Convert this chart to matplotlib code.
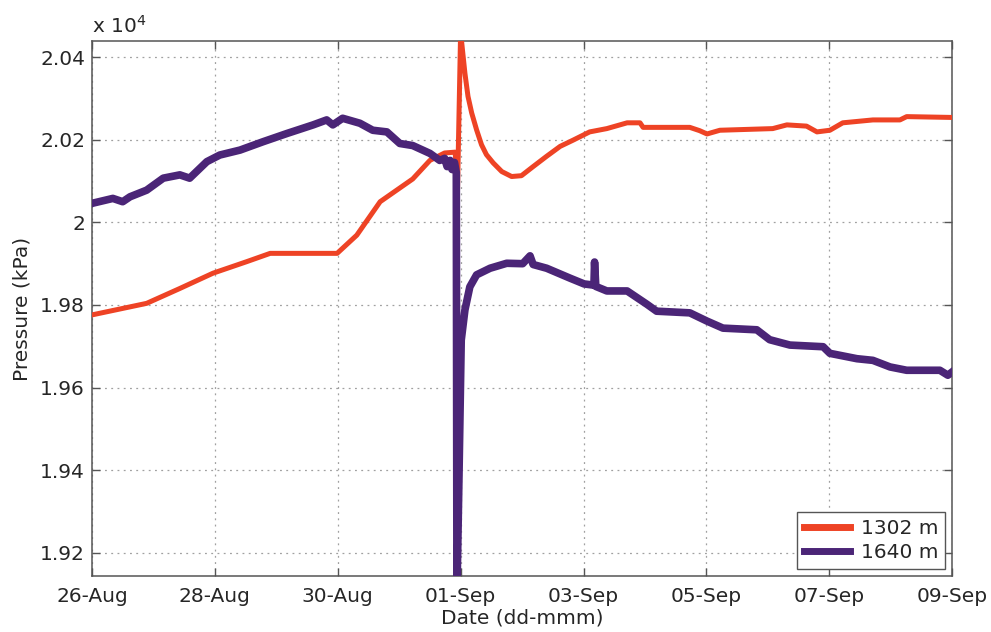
#!/usr/bin/env python3
# Pressure at two gauge depths around the 01-Sep event (MATLAB-style look)

from datetime import datetime, timedelta
import matplotlib
matplotlib.use("Agg")
import matplotlib.pyplot as plt
import matplotlib.dates as mdates
from matplotlib.ticker import FuncFormatter, MultipleLocator

START = datetime(2012, 8, 26)

# days since 26-Aug 00:00, pressure in units of 1e4 kPa
DAYS_1302 = [0.00, 0.89, 1.43, 1.97, 2.52, 2.90, 3.99, 4.31, 4.69, 5.22, 5.50, 5.74,
             5.91, 5.93, 5.95, 6.00, 6.07, 6.12, 6.18, 6.26, 6.34, 6.42, 6.53, 6.67,
             6.83, 6.99, 7.18, 7.40, 7.62, 7.83, 8.10, 8.38, 8.71, 8.92, 8.97, 9.73,
             9.89, 10.01, 10.22, 11.08, 11.31, 11.63, 11.80, 12.01, 12.22, 12.71, 13.15,
             13.26, 14.00]
P_1302 = [1.9776, 1.9804, 1.9840, 1.9877, 1.9905, 1.9925, 1.9925, 1.9969, 2.0050, 2.0105,
          2.0150, 2.0168, 2.0170, 2.0135, 2.0080, 2.0460, 2.0361, 2.0305, 2.0265, 2.0224,
          2.0188, 2.0164, 2.0144, 2.0123, 2.0111, 2.0113, 2.0135, 2.0160, 2.0184, 2.0199,
          2.0219, 2.0227, 2.0241, 2.0241, 2.0230, 2.0230, 2.0222, 2.0214, 2.0223, 2.0227,
          2.0236, 2.0233, 2.0219, 2.0223, 2.0241, 2.0248, 2.0248, 2.0256, 2.0254]

DAYS_1640 = [0.00, 0.34, 0.50, 0.62, 0.89, 1.16, 1.43, 1.59, 1.87, 2.08, 2.41, 2.78,
             3.17, 3.60, 3.82, 3.92, 4.08, 4.36, 4.57, 4.80, 5.01, 5.22, 5.50, 5.66,
             5.74, 5.78, 5.83, 5.86, 5.90, 5.93, 5.94, 5.975, 6.01, 6.07, 6.15, 6.26,
             6.48, 6.75, 7.01, 7.13, 7.18, 7.40, 7.78, 8.01, 8.17, 8.18, 8.20, 8.38,
             8.71, 9.03, 9.19, 9.73, 10.01, 10.27, 10.82, 11.03, 11.36, 11.90, 12.01,
             12.45, 12.71, 12.99, 13.26, 13.80, 13.93, 14.00]
P_1640 = [2.0046, 2.0058, 2.0050, 2.0062, 2.0078, 2.0107, 2.0115, 2.0107, 2.0147, 2.0163,
          2.0175, 2.0195, 2.0215, 2.0236, 2.0248, 2.0236, 2.0252, 2.0240, 2.0223, 2.0219,
          2.0191, 2.0186, 2.0167, 2.0150, 2.0155, 2.0135, 2.0150, 2.0128, 2.0145, 2.0120,
          1.9100, 1.9400, 1.9715, 1.9788, 1.9844, 1.9873, 1.9889, 1.9901, 1.9900, 1.9919,
          1.9898, 1.9889, 1.9865, 1.9851, 1.9848, 1.9904, 1.9845, 1.9834, 1.9834, 1.9802,
          1.9785, 1.9781, 1.9761, 1.9744, 1.9740, 1.9716, 1.9703, 1.9699, 1.9683, 1.9670,
          1.9666, 1.9650, 1.9642, 1.9642, 1.9630, 1.9638]

LABEL_1302 = "1302 m"
LABEL_1640 = "1640 m"

COLOR_1302 = "#EE4325"
COLOR_1640 = "#4B2577"
TEXT_COLOR = "#262626"
AXIS_COLOR = "#555555"


def to_dates(days):
    return [START + timedelta(days=d) for d in days]


def main():
    plt.rcParams.update({
        "font.family": ["DejaVu Sans"],
        "font.size": 14.5,
        "text.color": TEXT_COLOR,
        "axes.labelcolor": TEXT_COLOR,
        "xtick.color": AXIS_COLOR,
        "ytick.color": AXIS_COLOR,
        "xtick.labelcolor": TEXT_COLOR,
        "ytick.labelcolor": TEXT_COLOR,
    })

    fig = plt.figure(figsize=(9.91, 6.32), dpi=100)
    ax = fig.add_axes([0.0928, 0.0886, 0.868, 0.8465])

    ax.plot(to_dates(DAYS_1302), P_1302, color=COLOR_1302, linewidth=3.6,
            label=LABEL_1302, zorder=3)
    ax.plot(to_dates(DAYS_1640), P_1640, color=COLOR_1640, linewidth=5.5,
            label=LABEL_1640, zorder=4)

    ax.set_xlim(START, START + timedelta(days=14))
    ax.set_ylim(1.9144, 2.0439)

    ax.xaxis.set_major_locator(mdates.DayLocator(interval=2))
    ax.xaxis.set_major_formatter(mdates.DateFormatter("%d-%b"))
    ax.yaxis.set_major_locator(MultipleLocator(0.02))
    ax.yaxis.set_major_formatter(FuncFormatter(lambda v, _: f"{round(v, 4):g}"))

    ax.grid(True, linestyle=(0, (1.5, 3.5)), color="#A0A0A0", linewidth=0.9)
    ax.set_axisbelow(True)
    ax.tick_params(direction="in", length=6, width=1.0, top=True, right=True)
    ax.tick_params(axis="x", pad=8)
    ax.tick_params(axis="y", pad=5)
    for side in ("top", "right", "left", "bottom"):
        ax.spines[side].set_color(AXIS_COLOR)
        ax.spines[side].set_linewidth(1.1)

    ax.set_xlabel("Date (dd-mmm)", labelpad=2)
    ax.set_ylabel("Pressure (kPa)", labelpad=6)
    ax.text(0.0, 1.008, r"x 10$^{4}$", transform=ax.transAxes, ha="left", va="bottom")

    leg = ax.legend(loc="lower right", fancybox=False, framealpha=1.0,
                    edgecolor=AXIS_COLOR, handlelength=2.3, borderaxespad=0.35,
                    handletextpad=0.5, labelspacing=0.25, borderpad=0.35)
    leg.get_frame().set_linewidth(1.0)
    for line in leg.get_lines():
        line.set_linewidth(5)

    fig.savefig("out.png", dpi=100)


if __name__ == "__main__":
    main()
